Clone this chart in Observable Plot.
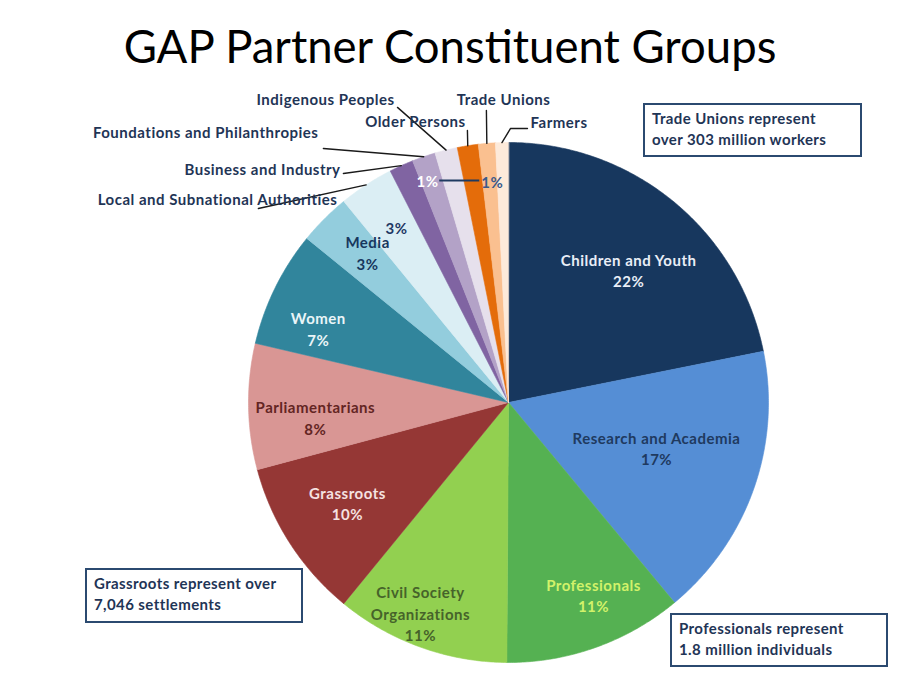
<!DOCTYPE html>
<html>
<head>
<meta charset="utf-8">
<script src="https://cdn.jsdelivr.net/npm/d3@7"></script>
<script src="https://cdn.jsdelivr.net/npm/@observablehq/plot@0.6"></script>
<style>
  html, body { margin: 0; padding: 0; background: #fff; }
  #page { position: relative; width: 897px; height: 687px; overflow: hidden; font-family: Lato, "Open Sans", sans-serif; }
  #title { position: absolute; left: 0; width: 900px; top: 23px; text-align: center; font-size: 45.5px; line-height: 45.5px; color: #000; font-weight: 400; }
  #chart { position: absolute; left: 0; top: 80px; }
  .note { position: absolute; box-sizing: border-box; border: 2px solid #2b4a70; background: #fff; color: #1f3556;
          font-weight: 700; font-size: 15px; letter-spacing: 0.4px; line-height: 21px; padding: 3px 7px; white-space: nowrap; }
</style>
</head>
<body>
<div id="page">
  <div id="title">GAP Partner Constituent Groups</div>
  <div id="chart"></div>
  <div class="note" style="left:643px; top:103px; width:219px; height:54px;">Trade Unions represent<br>over 303 million workers</div>
  <div class="note" style="left:85px; top:568px; width:218px; height:55px;">Grassroots represent over<br>7,046 settlements</div>
  <div class="note" style="left:670px; top:613px; width:218px; height:54px;">Professionals represent<br>1.8 million individuals</div>
</div>
<script>
// ---- data ----
const groups = [
  "Children and Youth", "Research and Academia", "Professionals", "Civil Society Organizations",
  "Grassroots", "Parliamentarians", "Women", "Media", "Local and Subnational Authorities",
  "Business and Industry", "Foundations and Philanthropies", "Indigenous Peoples",
  "Older Persons", "Trade Unions", "Farmers"
];
const shares = [21.8, 17.1, 11.1, 10.8, 9.9, 7.8, 7.2, 3.2, 3.4, 1.5, 1.45, 1.4, 1.3, 1.05, 0.8];
const sliceColors = [
  "#17375e", "#558ed5", "#55b152", "#92d050", "#953735", "#d99694", "#31859c", "#93cddd",
  "#dbeef4", "#8064a2", "#b3a2c7", "#e6e0ec", "#e46c0a", "#fac090", "#fdeada"
];
const insideLabels = {
  "Children and Youth": "Children and Youth\n22%",
  "Research and Academia": "Research and Academia\n17%",
  "Professionals": "Professionals\n11%",
  "Civil Society Organizations": "Civil Society\nOrganizations\n11%",
  "Grassroots": "Grassroots\n10%",
  "Parliamentarians": "Parliamentarians\n8%",
  "Women": "Women\n7%",
  "Media": "Media\n3%",
  "Local and Subnational Authorities": "3%",
  "Foundations and Philanthropies": "1%",
  "Trade Unions": "1%"
};
const outsideLabels = ["Local and Subnational Authorities", "Business and Industry", "Foundations and Philanthropies",
  "Indigenous Peoples", "Older Persons", "Trade Unions", "Farmers"];

// ---- layout (styling / placement, not data) ----
const W = 897, H = 607, cx = 508, cy = 322, R = 260;
// r: label radius (fraction of R), da: angular nudge from slice middle (degrees)
const labelStyle = {
  "Children and Youth": {r: 0.689, da: 2.8, fill: "#e9eef7"},
  "Research and Academia": {r: 0.595, da: -2.6, fill: "#1f3a5f"},
  "Professionals": {r: 0.808, da: -4.2, fill: "#d2f26a"},
  "Civil Society Organizations": {r: 0.876, da: 2.9, fill: "#46632a"},
  "Grassroots": {r: 0.729, da: 1.0, fill: "#f5e2e1"},
  "Parliamentarians": {r: 0.745, da: -3.5, fill: "#632523"},
  "Women": {r: 0.786, da: -4.7, fill: "#eaf5f8"},
  "Media": {r: 0.792, da: 1.9, fill: "#17375e"},
  "Local and Subnational Authorities": {r: 0.802, da: 0.7, fill: "#1f3864"},
  "Foundations and Philanthropies": {r: 0.909, da: -1.0, fill: "#ffffff"},
  "Trade Unions": {r: 0.856, da: 0.6, fill: "#3a5a8a"}
};
// outside label anchor (u,v in radius units from pie centre), text anchor, leader start, optional elbow
const outsideLayout = {
  "Local and Subnational Authorities": {at: [-0.658, 0.777], anchor: "end", from: [-0.962, 0.746]},
  "Business and Industry": {at: [-0.646, 0.892], anchor: "end", from: [-0.635, 0.881]},
  "Foundations and Philanthropies": {at: [-0.731, 1.035], anchor: "end", from: [-0.712, 0.977]},
  "Indigenous Peoples": {at: [-0.438, 1.162], anchor: "end", from: [-0.427, 1.135]},
  "Older Persons": {at: [-0.165, 1.077], anchor: "end", from: [-0.158, 1.046]},
  "Trade Unions": {at: [-0.019, 1.162], anchor: "middle", from: [-0.085, 1.123]},
  "Farmers": {at: [0.085, 1.073], anchor: "start", from: [0.073, 1.054], elbow: [0.008, 1.054]}
};

// ---- geometry via d3.pie ----
const arcs = d3.pie().sort(null).startAngle(0).endAngle(2 * Math.PI)(shares);
const polar = (a, r) => ({x: r * Math.sin(a), y: r * Math.cos(a)});
const slices = arcs.map((a, i) => {
  const pts = [{x: 0, y: 0}];
  const n = Math.max(4, Math.ceil((a.endAngle - a.startAngle) / (Math.PI / 360)));
  for (let k = 0; k <= n; k++) pts.push(polar(a.startAngle + (a.endAngle - a.startAngle) * k / n, 1));
  return {name: groups[i], color: sliceColors[i], mid: (a.startAngle + a.endAngle) / 2, pts};
});
const byName = Object.fromEntries(slices.map(s => [s.name, s]));

const inside = Object.keys(insideLabels).map(name => {
  const s = byName[name], st = labelStyle[name];
  const p = polar(s.mid + st.da * Math.PI / 180, st.r);
  return {name, text: insideLabels[name], x: p.x, y: p.y, fill: st.fill};
});

const outsideText = outsideLabels.map(name => {
  const L = outsideLayout[name];
  return {text: name, x: L.at[0], y: L.at[1], anchor: L.anchor};
});
const leaders = [];
outsideLabels.forEach(name => {
  const L = outsideLayout[name];
  const edge = polar(byName[name].mid, 1.0);
  const pts = [L.from, ...(L.elbow ? [L.elbow] : []), [edge.x, edge.y]];
  pts.forEach((p, k) => leaders.push({name, k, x: p[0], y: p[1]}));
});
const fLab = inside.find(d => d.name === "Foundations and Philanthropies");
const tLab = inside.find(d => d.name === "Trade Unions");
const connector = [{x1: fLab.x + 0.045, y1: fLab.y, x2: tLab.x - 0.05, y2: tLab.y}];

const font = "Lato, 'Open Sans', sans-serif";
const outText = (anchor) => Plot.text(outsideText.filter(d => d.anchor === anchor),
  {x: "x", y: "y", text: "text", textAnchor: anchor, fill: "#1f3556", fontSize: 15, fontWeight: 700});
const chart = Plot.plot({
  width: W, height: H, margin: 0,
  x: {domain: [-cx / R, (W - cx) / R], range: [0, W], axis: null},
  y: {domain: [-(H - cy) / R, cy / R], range: [H, 0], axis: null},
  style: {fontFamily: font, background: "transparent", letterSpacing: "0.5px"},
  marks: [
    ...slices.map(s => Plot.line(s.pts, {x: "x", y: "y", fill: s.color, stroke: s.color, strokeWidth: 0.6, curve: "linear-closed"})),
    Plot.line(leaders, {x: "x", y: "y", z: "name", stroke: "#1a1a1a", strokeWidth: 1.4}),
    Plot.link(connector, {x1: "x1", y1: "y1", x2: "x2", y2: "y2", stroke: "#1f3a60", strokeWidth: 2}),
    Plot.text(inside, {x: "x", y: "y", text: "text", fill: "fill", fontSize: 15, fontWeight: 700, lineHeight: 1.45}),
    outText("end"), outText("start"), outText("middle")
  ]
});
document.getElementById("chart").appendChild(chart);
</script>
</body>
</html>
